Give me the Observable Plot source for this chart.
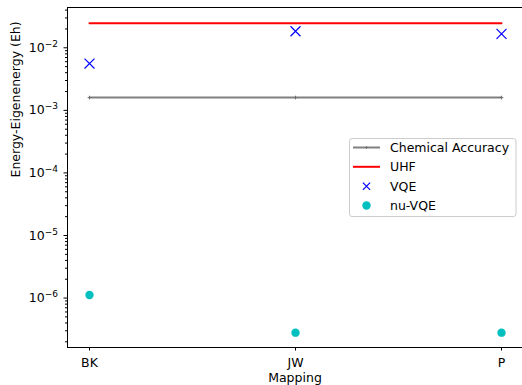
<!DOCTYPE html>
<html><head><meta charset="utf-8">
<script src="https://cdn.jsdelivr.net/npm/d3@7"></script>
<script src="https://cdn.jsdelivr.net/npm/@observablehq/plot@0.6"></script>
<style>
body{margin:0;background:#fff}
#chart{width:522px;height:385px;overflow:hidden;position:relative}
</style>
</head><body><div id="chart"></div>
<script>
const mappings = ["BK", "JW", "P"];
const chemicalAccuracy = [1.6e-3, 1.6e-3, 1.6e-3];
const uhf = [0.0247, 0.0247, 0.0247];
const vqe = [5.6e-3, 1.84e-2, 1.67e-2];
const nuVqe = [1.12e-6, 2.8e-7, 2.8e-7];
const majorTicks = [1e-6, 1e-5, 1e-4, 1e-3, 1e-2];
const majorExponents = ["−6", "−5", "−4", "−3", "−2"];
const legendLabels = ["Chemical Accuracy", "UHF", "VQE", "nu-VQE"];
const yLabel = "Energy-Eigenenergy (Eh)";
const xLabel = "Mapping";

const yDomain = [Math.pow(10, -6.79), Math.pow(10, -1.356)];
const minorTicks = [];
for (let e = -7; e <= -2; e++) for (let m = 2; m <= 9; m++) {
  const v = m * Math.pow(10, e);
  if (v >= yDomain[0] && v <= yDomain[1]) minorTicks.push(v);
}

const table = (vals) => mappings.map((m, i) => ({mapping: m, value: vals[i]}));
const FONT = "DejaVu Sans";
const FS = 12.5;

const plot = Plot.plot({
  width: 522,
  height: 385,
  marginLeft: 67,
  marginRight: 0,
  marginTop: 7,
  marginBottom: 38,
  style: {fontFamily: FONT, fontSize: FS + "px", color: "#000", background: "#fff"},
  x: {type: "point", domain: mappings, padding: 0.1},
  y: {type: "log", domain: yDomain},
  marks: [
    Plot.axisX({tickSize: 3.5, tickPadding: 7, fontSize: FS, label: null, stroke: "#000"}),
    Plot.axisY(majorTicks, {tickSize: 3.5, tickPadding: 6, fontSize: FS, label: null,
      tickFormat: (d) => "10^" + majorExponents[majorTicks.indexOf(d)]}),
    Plot.axisY(minorTicks, {tickSize: 2, tickFormat: () => "", label: null}),
    Plot.line(table(chemicalAccuracy), {x: "mapping", y: "value", stroke: "#808080", strokeWidth: 2}),
    Plot.dot(table(chemicalAccuracy), {x: "mapping", y: "value", symbol: "plus", r: 1.3, stroke: "#707070", strokeWidth: 1}),
    Plot.line(table(uhf), {x: "mapping", y: "value", stroke: "#ff0000", strokeWidth: 2}),
    Plot.dot(table(vqe), {x: "mapping", y: "value", symbol: "times", r: 4.6, stroke: "#0000ff", strokeWidth: 1.2}),
    Plot.dot(table(nuVqe), {x: "mapping", y: "value", r: 4.2, fill: "#00bfbf", stroke: "none"}),
    Plot.text([yLabel], {frameAnchor: "left", rotate: -90, dx: -52, fontSize: FS, fill: "#000"}),
    Plot.text([xLabel], {frameAnchor: "bottom", lineAnchor: "top", dy: 25.5, fontSize: FS, fill: "#000"}),
    Plot.frame({anchor: "top", stroke: "#000", strokeWidth: 1}),
    Plot.frame({anchor: "left", stroke: "#000", strokeWidth: 1}),
    Plot.frame({anchor: "bottom", stroke: "#000", strokeWidth: 1})
  ]
});

document.getElementById("chart").appendChild(plot);

// superscript tick labels
d3.select(plot).selectAll('g[aria-label="y-axis tick label"] text').each(function () {
  const t = d3.select(this);
  const s = t.text();
  const parts = s.split("^");
  if (parts.length !== 2) return;
  t.text(null);
  t.append("tspan").text(parts[0]);
  t.append("tspan").attr("font-size", "72%").attr("dy", "-0.55em").text(parts[1]);
});

// legend
const svg = d3.select(plot);
const lg = svg.append("g").attr("font-family", FONT).attr("font-size", FS).attr("text-anchor", "start");
lg.append("rect").attr("x", 349.5).attr("y", 138.5).attr("width", 166.5).attr("height", 78)
  .attr("rx", 2.5).attr("fill", "#ffffff").attr("fill-opacity", 0.8).attr("stroke", "#cccccc").attr("stroke-width", 1);
const rowY = [147.5, 166.8, 186.3, 205.5];
const sw0 = 353, sw1 = 380, swc = 366.5, tx = 390;
lg.append("line").attr("x1", sw0).attr("x2", sw1).attr("y1", rowY[0]).attr("y2", rowY[0]).attr("stroke", "#808080").attr("stroke-width", 2);
lg.append("path").attr("d", `M${swc - 1.3},${rowY[0]}h2.6M${swc},${rowY[0] - 1.3}v2.6`).attr("stroke", "#707070").attr("stroke-width", 1).attr("fill", "none");
lg.append("line").attr("x1", sw0).attr("x2", sw1).attr("y1", rowY[1]).attr("y2", rowY[1]).attr("stroke", "#ff0000").attr("stroke-width", 2);
lg.append("path").attr("d", `M${swc - 3.6},${rowY[2] - 3.6}l7.2,7.2M${swc - 3.6},${rowY[2] + 3.6}l7.2,-7.2`).attr("stroke", "#0000ff").attr("stroke-width", 1.2).attr("fill", "none");
lg.append("circle").attr("cx", swc).attr("cy", rowY[3]).attr("r", 4.2).attr("fill", "#00bfbf");
legendLabels.forEach((l, i) => {
  lg.append("text").attr("x", tx).attr("y", rowY[i]).attr("dy", "0.36em").attr("fill", "#000").attr("text-anchor", "start").text(l);
});
</script>
</body></html>
